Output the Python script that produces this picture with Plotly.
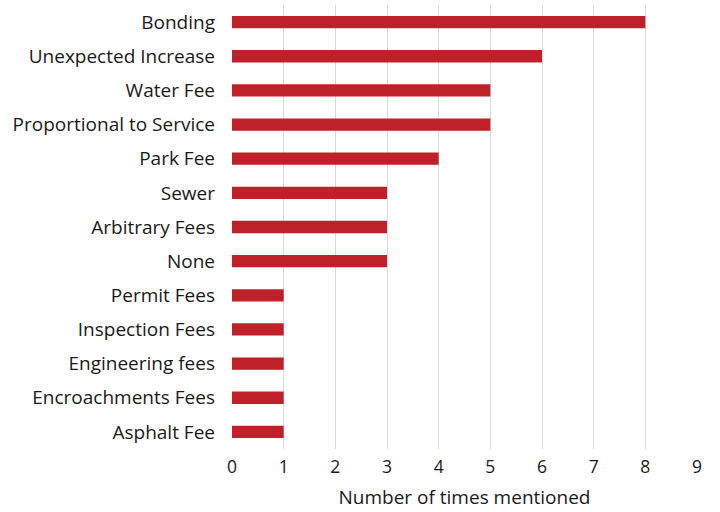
import plotly.graph_objects as go

categories = ["Bonding", "Unexpected Increase", "Water Fee", "Proportional to Service",
              "Park Fee", "Sewer", "Arbitrary Fees", "None", "Permit Fees",
              "Inspection Fees", "Engineering fees", "Encroachments Fees", "Asphalt Fee"]
values = [8, 6, 5, 5, 4, 3, 3, 3, 1, 1, 1, 1, 1]
x_ticks = [0, 1, 2, 3, 4, 5, 6, 7, 8, 9]

fig = go.Figure(go.Bar(
    x=values, y=categories, orientation="h",
    marker=dict(color="#C0202A", line=dict(width=0)),
    width=0.36,
))

fig.update_layout(
    width=720, height=512,
    margin=dict(l=232, r=23, t=5, b=63),
    paper_bgcolor="white", plot_bgcolor="white",
    font=dict(family="Open Sans", size=18.5, color="#1a1a1a"),
    showlegend=False,
    xaxis=dict(
        range=[0, 9], tickvals=x_ticks, showgrid=True, gridcolor="#d9d9d9", gridwidth=1,
        zeroline=False, showline=False, ticks="", automargin=False,
        ticklabelstandoff=5, tickfont=dict(size=17.5),
        title=dict(text="Number of times mentioned", standoff=14, font=dict(size=19)),
    ),
    yaxis=dict(
        autorange="reversed", showgrid=False, zeroline=False, showline=False,
        ticks="", ticklabelstandoff=16, automargin=False,
        tickfont=dict(size=19),
    ),
)

fig.write_html("out.html", config={"displayModeBar": False},
               post_script="document.body.style.margin='0';")
